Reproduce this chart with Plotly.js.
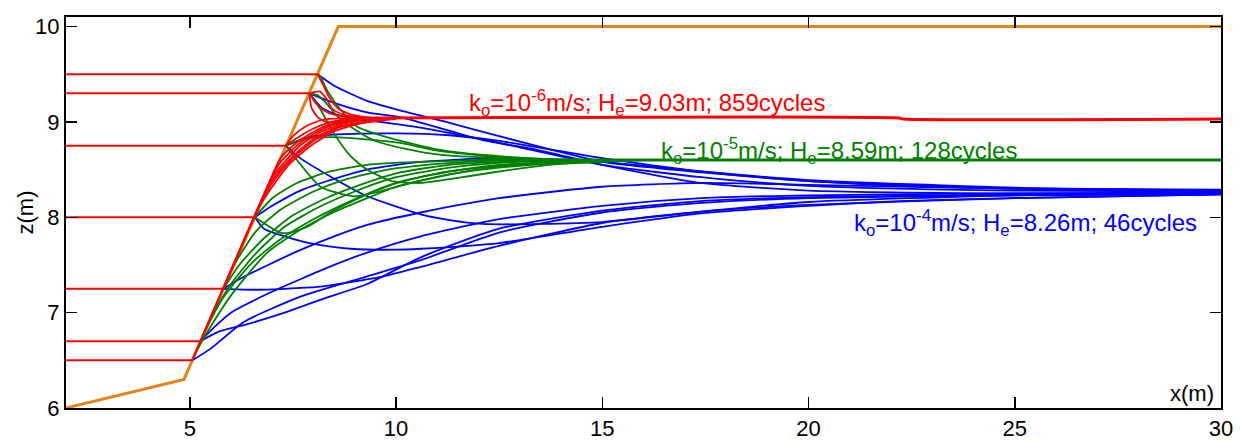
<!DOCTYPE html>
<html><head><meta charset="utf-8">
<script src="https://cdn.plot.ly/plotly-3.0.1.min.js"></script>
<style>html,body{margin:0;padding:0;background:#fff}#chart{width:1240px;height:442px}</style>
</head><body><div id="chart"></div>
<script>
// ---- dike profile ----
const profileX = [2, 4.86, 8.6, 30];
const profileY = [6.0, 6.3, 10.0, 10.0];
// ---- outer water levels (red horizontal lines) ----
const levelY = [9.5, 9.3, 8.75, 8.0, 7.25, 6.7, 6.5];
const levelXEnd = [8.1, 7.9, 7.33, 6.58, 5.82, 5.26, 5.06];
// ---- k = 1e-4 m/s (blue) phreatic lines ----
const blueX = [
  [8.1,8.5,9.3,10.1,11.3,12.5,13.75,15,17.4,20,22.2,25,30],
  [7.9,8.5,9.3,10.1,12.1,13.4,15,17.4,20,25,30],
  [7.9,8.2,8.6,9.3,10.6,12.5,15,17.4,20,25,30],
  [7.33,7.6,8.0,8.6,10,11.3,12.5,15,17.4,20,25,30],
  [7.33,7.68,8.48,9.31,10.6,11.3,12.1,13.5,15,17.4,20,25,30],
  [6.58,7.0,7.68,8.48,9.3,10.6,12.5,15,17.4,20,25,30],
  [6.58,6.8,7.3,8.0,8.9,10.0,10.6,12.5,15,17.4,20,22.2,25,30],
  [5.82,6.2,6.9,7.7,8.5,9.3,10.6,12.5,15,17.4,20,25,30],
  [5.82,6.6,7.3,8.1,8.9,9.7,10.6,12.5,15,17.4,20,25,30],
  [5.26,5.6,6.0,6.9,7.68,8.5,9.3,10.6,12.5,15,17.4,20,25,30],
  [5.26,5.7,6.4,7.3,8.2,9.3,10.6,12.5,15,17.4,20,25,30],
  [5.06,5.5,6.3,7.7,9.3,10.6,12.5,15,17.4,20,25,30]
];
const blueY = [
  [9.5,9.38,9.22,9.12,8.99,8.85,8.71,8.58,8.47,8.38,8.33,8.3,8.29],
  [9.3,9.2,9.1,9.05,8.81,8.71,8.55,8.36,8.28,8.25,8.25],
  [9.3,9.15,9.07,9.02,8.94,8.78,8.55,8.42,8.33,8.28,8.27],
  [8.75,8.8,8.85,8.87,8.88,8.86,8.8,8.62,8.48,8.38,8.3,8.28],
  [8.75,8.62,8.41,8.22,8.03,7.97,7.93,7.93,7.95,8.06,8.16,8.23,8.25],
  [8.0,8.12,8.28,8.4,8.5,8.58,8.62,8.58,8.48,8.39,8.31,8.28],
  [8.0,7.88,7.8,7.72,7.67,7.66,7.67,7.73,7.9,8.04,8.12,8.17,8.2,8.24],
  [7.25,7.35,7.5,7.66,7.8,7.92,8.05,8.2,8.32,8.36,8.34,8.3,8.27],
  [7.25,7.24,7.25,7.27,7.32,7.38,7.48,7.7,7.94,8.06,8.13,8.2,8.24],
  [6.7,6.85,7.0,7.2,7.35,7.5,7.63,7.8,7.98,8.12,8.2,8.23,8.25,8.26],
  [6.7,6.8,6.88,7.0,7.14,7.3,7.58,7.88,8.07,8.17,8.21,8.24,8.25],
  [6.5,6.62,6.9,7.17,7.38,7.55,7.84,8.05,8.15,8.2,8.23,8.24]
];
// ---- k = 1e-5 m/s (green) phreatic lines ----
const greenX = [
  [8.1,8.17,8.24,8.36,8.65,9.06,9.7,10.5,11.3,12.5,13.7,15],
  [7.9,8.1,8.3,8.6,9.0,9.5,10.2,11,12.5,14.5],
  [7.9,8.17,8.48,8.9,9.3,9.9,10.6,11.3,12.5,13.7,15,16],
  [7.33,7.6,8.17,8.97,9.6,10.1,11.3,12.5,14,15.5],
  [7.33,7.8,8.4,9.2,10.1,11,12.5,14],
  [6.58,7.19,7.44,7.85,8.41,9.21,10.03,11,12.05,13.5,15],
  [5.1,5.5,6.05,6.88,7.68,8.48,9.3,10.0,11.3,12.5,14,15.5],
  [5.3,5.8,6.5,7.2,8.0,8.9,10.0,11.3,12.5,14,15.5],
  [5.5,6.0,6.6,7.3,8.1,9.0,10.0,11.3,12.5,14],
  [5.82,6.2,6.8,7.5,8.3,9.2,10.1,11.3,12.5,14],
  [6.1,6.6,7.2,8.0,8.8,9.8,11,12.5],
  [6.58,7.0,7.6,8.4,9.3,10.5,12],
  [12,30]
];
const greenY = [
  [9.5,9.48,9.41,9.31,9.13,8.95,8.85,8.76,8.69,8.64,8.61,8.6],
  [9.3,9.28,9.2,9.05,8.92,8.8,8.72,8.66,8.62,8.6],
  [9.3,9.13,8.89,8.64,8.5,8.38,8.36,8.4,8.48,8.55,8.58,8.6],
  [8.75,8.6,8.32,8.22,8.27,8.33,8.45,8.53,8.58,8.6],
  [8.75,8.82,8.84,8.82,8.78,8.7,8.63,8.6],
  [8.0,7.84,7.84,7.9,8.05,8.22,8.36,8.46,8.52,8.57,8.59],
  [6.55,6.85,7.21,7.63,7.87,8.05,8.2,8.32,8.45,8.52,8.57,8.6],
  [6.75,7.15,7.52,7.77,7.98,8.17,8.36,8.48,8.55,8.58,8.6],
  [6.95,7.3,7.62,7.9,8.1,8.27,8.42,8.52,8.57,8.6],
  [7.25,7.5,7.78,8.02,8.2,8.35,8.47,8.55,8.58,8.6],
  [7.52,7.85,8.08,8.27,8.4,8.5,8.56,8.6],
  [8.0,8.2,8.36,8.48,8.55,8.58,8.6],
  [8.6,8.6]
];
// ---- k = 1e-6 m/s (red) phreatic lines ----
const redX = [
  [8.1,8.22,8.38,8.6,8.9,9.3,9.8],
  [7.9,8.15,8.3,8.45,8.7,9.1,9.6],
  [7.9,8.05,8.25,8.55,9.0,9.5],
  [7.33,7.6,7.95,8.35,8.8,9.3],
  [6.58,7.2,7.5,7.9,8.3,8.8,9.4],
  [6.58,7.1,7.4,7.8,8.3,8.9,9.5],
  [5.82,7.0,7.3,7.7,8.2,8.8,9.6],
  [5.82,6.9,7.2,7.6,8.1,8.7,9.7],
  [5.26,6.8,7.1,7.5,8.0,8.6,9.8],
  [5.06,6.7,7.0,7.4,7.9,8.5,9.2,10],
  [7.9,7.95,8.1,8.3,8.6,9.0,9.6],
  [7.33,7.5,7.8,8.2,8.7,9.3],
  [9.5,22.2,22.3,30]
];
const redY = [
  [9.5,9.4,9.26,9.14,9.08,9.05,9.04],
  [9.3,9.32,9.25,9.14,9.08,9.05,9.04],
  [9.3,9.2,9.12,9.07,9.05,9.04],
  [8.75,8.83,8.92,8.99,9.03,9.04],
  [8.0,8.62,8.75,8.87,8.96,9.01,9.04],
  [8.0,8.52,8.67,8.82,8.94,9.01,9.04],
  [7.25,8.42,8.58,8.76,8.9,8.99,9.04],
  [7.25,8.32,8.5,8.68,8.85,8.96,9.03],
  [6.7,8.22,8.42,8.62,8.8,8.94,9.03],
  [6.5,8.12,8.32,8.55,8.74,8.9,8.99,9.03],
  [9.3,9.15,9.05,9.0,9.0,9.02,9.04],
  [8.75,8.85,8.95,9.02,9.04,9.04],
  [9.04,9.04,9.03,9.03]
];
// ---- labels ----
const labelExp = [-6, -5, -4];
const labelHe = ['9.03', '8.59', '8.26'];
const labelCycles = [859, 128, 46];
const labelColor = ['#ff0000', '#008000', '#0000ff'];
const xTicks = [5, 10, 15, 20, 25, 30];
const yTicks = [6, 7, 8, 9, 10];

const FONT = 'Liberation Sans, Arial, Helvetica, sans-serif';
const traces = [];
traces.push({x: profileX, y: profileY, mode: 'lines', line: {color: '#e0851a', width: 3}, hoverinfo: 'skip'});
function addGroup(xs, ys, color, width, lastWidth) {
  xs.forEach((xx, i) => {
    const w = (lastWidth && i === xs.length - 1) ? lastWidth : width;
    traces.push({x: xx, y: ys[i], mode: 'lines', line: {color: color, width: w, shape: 'spline', smoothing: 0.6}, hoverinfo: 'skip'});
  });
}
addGroup(blueX, blueY, '#0000ff', 1.8);
addGroup(greenX, greenY, '#008000', 1.8, 3);
addGroup(redX, redY, '#ff0000', 1.8, 3);
levelY.forEach((ly, i) => {
  traces.push({x: [2, levelXEnd[i]], y: [ly, ly], mode: 'lines', line: {color: '#ff0000', width: 2}, hoverinfo: 'skip'});
});

const labelPos = [
  {x: 11.73, y: 9.2},
  {x: 16.37, y: 8.69},
  {x: 21.05, y: 7.94}
];
const annotations = labelExp.map((e, i) => ({
  x: labelPos[i].x, y: labelPos[i].y, xref: 'x', yref: 'y', xanchor: 'left', yanchor: 'middle',
  showarrow: false, font: {family: FONT, size: 24, color: labelColor[i]},
  text: 'k<sub>o</sub>=10<sup>' + e + '</sup>m/s; H<sub>e</sub>=' + labelHe[i] + 'm; ' + labelCycles[i] + 'cycles'
}));
annotations.push({x: 1, y: 0, xref: 'paper', yref: 'paper', xanchor: 'right', yanchor: 'bottom', xshift: -5, yshift: 0,
  showarrow: false, text: 'x(m)', font: {family: FONT, size: 22, color: '#000'}});
annotations.push({x: 0, y: 0.5, xref: 'paper', yref: 'paper', xanchor: 'center', yanchor: 'middle', xshift: -41,
  showarrow: false, text: 'z(m)', textangle: -90, font: {family: FONT, size: 22, color: '#000'}});

const axisCommon = {showgrid: false, zeroline: false, showline: true, linecolor: '#000', linewidth: 2,
  mirror: 'ticks', ticks: 'inside', ticklen: 11, tickwidth: 1.5, tickcolor: '#000',
  tickfont: {family: FONT, size: 22, color: '#000'}};
const layout = {
  width: 1240, height: 442, showlegend: false,
  margin: {l: 66, r: 19, t: 17, b: 34},
  paper_bgcolor: '#fff', plot_bgcolor: '#fff',
  xaxis: Object.assign({}, axisCommon, {range: [2, 30], tickmode: 'array', tickvals: xTicks}),
  yaxis: Object.assign({}, axisCommon, {range: [6, 10.1], tickmode: 'array', tickvals: yTicks}),
  annotations: annotations
};
Plotly.newPlot('chart', traces, layout, {displayModeBar: false, staticPlot: true});
</script></body></html>
